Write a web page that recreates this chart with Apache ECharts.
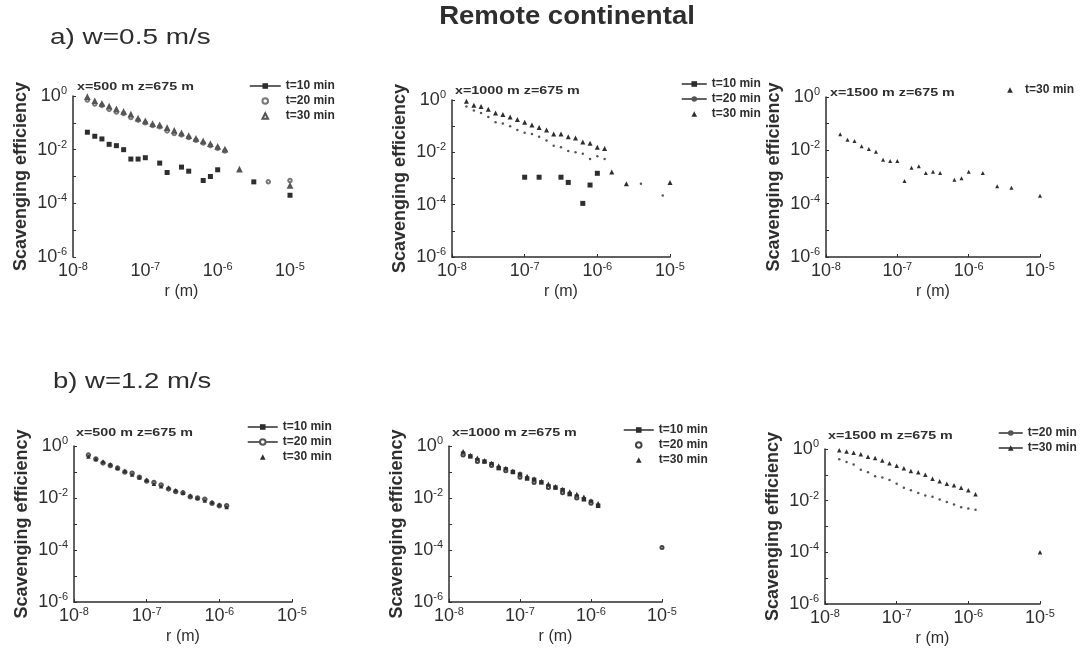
<!DOCTYPE html>
<html>
<head>
<meta charset="utf-8">
<title>Remote continental</title>
<script src="https://cdn.jsdelivr.net/npm/echarts@6/dist/echarts.min.js"></script>
<style>
  html, body { margin: 0; padding: 0; background: #fff; }
  #chart { width: 1090px; height: 659px; }
</style>
</head>
<body>
<div id="chart"></div>
<script>
// particle radius r (m), shared by every panel
const radius = [1.58e-8, 2.00e-8, 2.51e-8, 3.16e-8, 3.98e-8, 5.01e-8, 6.31e-8, 7.94e-8, 1.00e-7, 1.26e-7,
  1.58e-7, 2.00e-7, 2.51e-7, 3.16e-7, 3.98e-7, 5.01e-7, 6.31e-7, 7.94e-7, 1.00e-6, 1.26e-6,
  1.58e-6, 2.00e-6, 2.51e-6, 3.16e-6, 3.98e-6, 5.01e-6, 6.31e-6, 7.94e-6, 1.00e-5]

// scavenging efficiency, one value per radius (null = no point)
// a) w=0.5 m/s, x=500 m
const w05x500t10 = [4.47e-2, 3.16e-2, 2.51e-2, 1.58e-2, 1.41e-2, 1.00e-2, 4.47e-3, 4.47e-3, 5.01e-3, null,
  3.16e-3, 1.41e-3, null, 2.24e-3, 1.58e-3, null, 7.08e-4, 1.00e-3, 1.78e-3, null,
  null, null, null, 6.31e-4, null, null, null, null, 2.00e-4]
const w05x500t20 = [7.08e-1, 5.01e-1, 4.47e-1, 3.16e-1, 2.51e-1, 2.24e-1, 1.58e-1, 1.26e-1, 1.00e-1, 7.94e-2,
  7.08e-2, 5.01e-2, 3.98e-2, 3.55e-2, 2.82e-2, 2.24e-2, 1.78e-2, 1.41e-2, 1.12e-2, 8.91e-3,
  null, null, null, null, null, 6.31e-4, null, null, 7.08e-4]
const w05x500t30 = [8.91e-1, 6.31e-1, 5.01e-1, 3.98e-1, 3.16e-1, 2.51e-1, 2.00e-1, 1.41e-1, 1.12e-1, 8.91e-2,
  7.94e-2, 6.31e-2, 5.01e-2, 3.98e-2, 3.16e-2, 2.51e-2, 2.00e-2, 1.58e-2, 1.26e-2, 1.00e-2,
  null, 1.78e-3, null, null, null, null, null, null, 4.47e-4]
// a) x=1000 m
const w05x1000t10 = [null, null, null, null, null, null, null, null, 1.12e-3, null,
  1.12e-3, null, null, 1.12e-3, 7.08e-4, null, 1.12e-4, 5.62e-4, 1.58e-3]
const w05x1000t20 = [5.62e-1, 3.98e-1, 3.16e-1, 2.24e-1, 1.41e-1, 1.26e-1, 1.00e-1, 7.08e-2, 5.62e-2, 5.01e-2,
  3.98e-2, 2.82e-2, 1.78e-2, 1.58e-2, 1.12e-2, 1.00e-2, 8.91e-3, 5.62e-3, 7.08e-3, 5.62e-3,
  null, null, null, null, 6.31e-4, null, null, 2.24e-4]
const w05x1000t30 = [8.91e-1, 6.31e-1, 5.62e-1, 4.47e-1, 3.16e-1, 2.82e-1, 2.24e-1, 1.78e-1, 1.41e-1, 1.12e-1,
  8.91e-2, 7.08e-2, 5.01e-2, 5.01e-2, 3.98e-2, 3.55e-2, 2.51e-2, 2.24e-2, 1.58e-2, 1.41e-2,
  1.78e-3, null, 6.31e-4, null, null, null, null, null, 7.08e-4]
// a) x=1500 m
const w05x1500t30 = [3.98e-2, 2.51e-2, 2.24e-2, 1.41e-2, 1.12e-2, 8.91e-3, 4.47e-3, 3.98e-3, 3.98e-3, 7.08e-4,
  2.24e-3, 2.51e-3, 1.41e-3, 1.58e-3, 1.41e-3, null, 7.94e-4, 8.91e-4, 1.58e-3, null,
  1.41e-3, null, 4.47e-4, null, 3.98e-4, null, null, null, 2.00e-4]
// b) w=1.2 m/s, x=500 m (t=10 points hidden under the others)
const w12x500t10 = []
const w12x500t20 = [4.47e-1, 3.16e-1, 2.24e-1, 1.78e-1, 1.41e-1, 1.00e-1, 8.91e-2, 6.31e-2, 4.47e-2, 3.98e-2,
  3.16e-2, 2.24e-2, 1.78e-2, 1.58e-2, 1.12e-2, 1.00e-2, 8.91e-3, 6.31e-3, 5.01e-3, 5.01e-3]
const w12x500t30 = [3.98e-1, 3.16e-1, 2.51e-1, 2.00e-1, 1.41e-1, 1.12e-1, 7.94e-2, 6.31e-2, 5.01e-2, 3.55e-2,
  2.82e-2, 2.51e-2, 2.00e-2, 1.58e-2, 1.26e-2, 1.00e-2, 7.94e-3, 7.08e-3, 5.62e-3, 4.47e-3]
// b) x=1000 m
const w12x1000t10 = [5.01e-1, 3.98e-1, 2.82e-1, 2.51e-1, 2.00e-1, 1.41e-1, 1.26e-1, 1.00e-1, 7.94e-2, 5.62e-2,
  5.01e-2, 3.98e-2, 2.82e-2, 2.51e-2, 2.00e-2, 1.41e-2, 1.12e-2, 8.91e-3, 7.08e-3, 5.01e-3]
const w12x1000t20 = [4.47e-1, null, 2.51e-1, null, 1.78e-1, null, 1.12e-1, null, 6.31e-2, null,
  3.98e-2, null, 2.51e-2, null, 1.58e-2, null, 1.00e-2, null, 6.31e-3, null,
  null, null, null, null, null, null, null, null, 1.26e-4]
const w12x1000t30 = [6.31e-1, 4.47e-1, 3.55e-1, 2.82e-1, 2.24e-1, 1.78e-1, 1.41e-1, 1.12e-1, 8.91e-2, 7.08e-2,
  5.62e-2, 4.47e-2, 3.55e-2, 2.82e-2, 2.24e-2, 1.78e-2, 1.41e-2, 1.12e-2, 7.94e-3, 6.31e-3]
// b) x=1500 m
const w12x1500t20 = [3.98e-1, 3.16e-1, 2.51e-1, 1.58e-1, 1.26e-1, 8.91e-2, 7.94e-2, 6.31e-2, 4.47e-2, 3.16e-2,
  2.51e-2, 2.00e-2, 1.58e-2, 1.41e-2, 1.12e-2, 8.91e-3, 7.08e-3, 5.62e-3, 5.01e-3, 4.47e-3]
const w12x1500t30 = [8.91e-1, 7.94e-1, 7.08e-1, 6.31e-1, 5.01e-1, 4.47e-1, 3.55e-1, 2.82e-1, 2.24e-1, 1.78e-1,
  1.41e-1, 1.26e-1, 1.00e-1, 7.08e-2, 5.62e-2, 4.47e-2, 3.98e-2, 3.16e-2, 2.51e-2, 1.78e-2,
  null, null, null, null, null, null, null, null, 1.00e-4]

const notes = ['x=500 m z=675 m', 'x=1000 m z=675 m', 'x=1500 m z=675 m',
  'x=500 m z=675 m', 'x=1000 m z=675 m', 'x=1500 m z=675 m']

const FONT = '"Liberation Sans", Arial, Helvetica, sans-serif'
const INK = '#2e2e2e'

// panel layout: grid box, legend box, note position, series look
const panels = [
  {
    grid: { left: 73, top: 96, width: 217, height: 161 },
    legend: { left: 249, top: 80, itemWidth: 31 },
    note: [77, 87], xLine: false,
    series: [
      { name: 't=10 min', data: w05x500t10, symbol: 'rect', size: 5, line: true },
      { name: 't=20 min', data: w05x500t20, symbol: 'emptyCircle', size: 3.5, color: '#777' },
      { name: 't=30 min', data: w05x500t30, symbol: 'emptyTriangle', size: 3.5, color: '#555' }
    ]
  },
  {
    grid: { left: 452, top: 100, width: 218, height: 157 },
    legend: { left: 681, top: 78, itemWidth: 25 },
    note: [455, 91], xLine: true,
    series: [
      { name: 't=10 min', data: w05x1000t10, symbol: 'rect', size: 5, line: true },
      { name: 't=20 min', data: w05x1000t20, symbol: 'circle', size: 2.5, color: '#555', line: true },
      { name: 't=30 min', data: w05x1000t30, symbol: 'triangle', size: 5 }
    ]
  },
  {
    grid: { left: 826, top: 97, width: 214, height: 160 },
    legend: { left: 1000, top: 84, itemWidth: 20 },
    note: [830, 93], xLine: true,
    series: [
      { name: 't=30 min', data: w05x1500t30, symbol: 'triangle', size: 4 }
    ]
  },
  {
    grid: { left: 74, top: 446, width: 218, height: 156 },
    legend: { left: 247, top: 421, itemWidth: 30 },
    note: [76, 433], xLine: true,
    series: [
      { name: 't=10 min', data: w12x500t10, symbol: 'rect', size: 5, line: true },
      { name: 't=20 min', data: w12x500t20, symbol: 'emptyCircle', size: 3.5, color: '#555', line: true },
      { name: 't=30 min', data: w12x500t30, symbol: 'triangle', size: 4.5 }
    ]
  },
  {
    grid: { left: 449, top: 446, width: 213, height: 156 },
    legend: { left: 623, top: 424, itemWidth: 30 },
    note: [452, 433], xLine: true,
    series: [
      { name: 't=10 min', data: w12x1000t10, symbol: 'rect', size: 4.5, line: true },
      { name: 't=20 min', data: w12x1000t20, symbol: 'emptyCircle', size: 3, color: '#444' },
      { name: 't=30 min', data: w12x1000t30, symbol: 'triangle', size: 4.5 }
    ]
  },
  {
    grid: { left: 825, top: 449, width: 215, height: 155 },
    legend: { left: 998, top: 427, itemWidth: 24 },
    note: [828, 436], xLine: true,
    series: [
      { name: 't=20 min', data: w12x1500t20, symbol: 'circle', size: 2.5, color: '#555', line: true },
      { name: 't=30 min', data: w12x1500t30, symbol: 'triangle', size: 4.5, line: true }
    ]
  }
]

function points(vals) {
  const out = []
  vals.forEach((v, i) => {
    if (v != null) out.push([radius[i], v])
  })
  return out
}

const powRich = {
  b: { fontSize: 18, fontFamily: FONT, color: INK },
  e: { fontSize: 11, fontFamily: FONT, color: INK, padding: [0, 0, 10, 0] }
}
function powLabel(v) {
  const e = Math.round(Math.log10(v))
  return '{b|10}{e|' + e + '}'
}

const grids = [], xAxes = [], yAxes = [], legends = [], series = []

panels.forEach((p, i) => {
  grids.push(Object.assign({ outerBoundsMode: 'none' }, p.grid))
  xAxes.push({
    type: 'log', logBase: 10, gridIndex: i, min: 1e-8, max: 1e-5,
    name: 'r (m)', nameLocation: 'middle', nameGap: 27,
    nameTextStyle: { fontSize: 16, fontFamily: FONT, color: INK },
    axisLine: { show: p.xLine, lineStyle: { color: INK, width: 1.5 } },
    axisTick: { show: p.xLine, inside: true, length: 3, lineStyle: { color: INK } },
    minorTick: { show: false },
    splitLine: { show: false },
    axisLabel: { margin: 4, formatter: powLabel, rich: powRich }
  })
  yAxes.push({
    type: 'log', logBase: 10, gridIndex: i, min: 1e-6, max: 1,
    name: 'Scavenging efficiency', nameLocation: 'middle', nameGap: 43,
    nameTextStyle: { fontSize: 18, fontWeight: 'bold', fontFamily: FONT, color: INK },
    axisLine: { show: true, lineStyle: { color: INK, width: 1.5 } },
    axisTick: { show: true, inside: true, length: 3, lineStyle: { color: INK } },
    splitLine: { show: false },
    axisLabel: {
      margin: 6,
      rich: powRich,
      // only every second decade is labelled
      formatter: v => (Math.round(Math.log10(v)) % 2 === 0 ? powLabel(v) : '')
    }
  })

  const legendData = []
  p.series.forEach(s => {
    const name = s.name + '|' + i
    legendData.push({
      name: name,
      lineStyle: s.line ? { width: 1.5, color: INK, opacity: 1 } : { width: 0, opacity: 0 }
    })
    series.push({
      type: 'line', name: name, xAxisIndex: i, yAxisIndex: i,
      data: points(s.data),
      symbol: s.symbol, symbolSize: s.size, showSymbol: true, showAllSymbol: true,
      lineStyle: { width: 0 },
      itemStyle: { color: s.color || INK, borderWidth: 1 },
      emphasis: { disabled: true },
      silent: true
    })
  })
  legends.push({
    orient: 'vertical', left: p.legend.left, top: p.legend.top,
    itemWidth: p.legend.itemWidth, itemHeight: 7, itemGap: 3, padding: 0,
    selectedMode: false,
    formatter: n => n.split('|')[0],
    textStyle: { fontSize: 12, fontWeight: 'bold', fontFamily: FONT, color: INK },
    data: legendData
  })
})

const graphics = [
  {
    type: 'text', x: 567, y: 17, scaleX: 1.06,
    style: { text: 'Remote continental', font: 'bold 26px ' + FONT, fill: INK, align: 'center', verticalAlign: 'middle' }
  },
  {
    type: 'text', x: 50, y: 38, scaleX: 1.27,
    style: { text: 'a) w=0.5 m/s', font: '22px ' + FONT, fill: INK, align: 'left', verticalAlign: 'middle' }
  },
  {
    type: 'text', x: 53, y: 382, scaleX: 1.25,
    style: { text: 'b) w=1.2 m/s', font: '22px ' + FONT, fill: INK, align: 'left', verticalAlign: 'middle' }
  }
]
panels.forEach((p, i) => {
  graphics.push({
    type: 'text', x: p.note[0], y: p.note[1], scaleX: 1.3,
    style: { text: notes[i], font: 'bold 11px ' + FONT, fill: INK, align: 'left', verticalAlign: 'middle' }
  })
})

const myChart = echarts.init(document.getElementById('chart'), null, { renderer: 'canvas' })
myChart.setOption({
  backgroundColor: '#fff',
  animation: false,
  grid: grids,
  xAxis: xAxes,
  yAxis: yAxes,
  legend: legends,
  graphic: graphics,
  series: series
})
</script>
</body>
</html>
